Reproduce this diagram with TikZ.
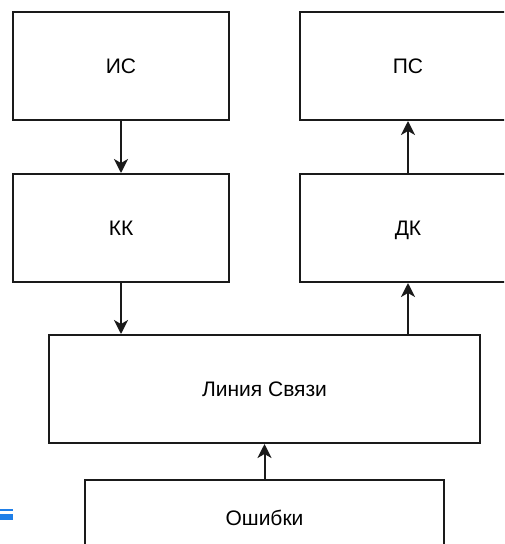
\documentclass[tikz,border=0pt]{standalone}
\usepackage{fontspec}
\setmainfont{Liberation Sans}
\usetikzlibrary{arrows.meta, positioning}
\definecolor{boxline}{HTML}{1A1A1A}
\definecolor{marker}{HTML}{1F7FE8}

\tikzset{
  block/.style={draw=boxline, line width=2pt, minimum width=216pt, minimum height=108pt,
    inner sep=0pt, text depth=0pt, font=\fontsize{21}{24}\selectfont},
  link/.style={-{Stealth[length=14pt, width=14pt, inset=4pt]}, line width=2pt, draw=boxline},
}

\begin{document}
\begin{tikzpicture}[x=1pt, y=-1pt]
  % Rahmen
  \useasboundingbox (0,0) rectangle (504,544);
  \clip (0,0) rectangle (504,544);

  % Bloecke
  \node[block] (is) at (121,66) {ИС};
  \node[block] (ps) at (408,66) {ПС};
  \node[block] (kk) at (121,228) {КК};
  \node[block] (dk) at (408,228) {ДК};
  \node[block, minimum width=431pt] (line) at (264.5,389) {Линия Связи};
  \node[block, minimum width=359pt, minimum height=130pt, anchor=north] (err) at (264.5,479) {};
  \node[font=\fontsize{21}{24}\selectfont] (errtext) at (264.5,518) {Ошибки};

  % Verbindungen
  \draw[link] (is) -- (kk);
  \draw[link] (kk.south) -- (kk.south |- line.north);
  \draw[link] (dk.south |- line.north) -- (dk.south);
  \draw[link] (dk) -- (ps);
  \draw[link] (err) -- (line);

  % Markierung am Rand
  \fill[marker] (0,509) rectangle (13,510.8);
  \fill[marker] (0,513.7) rectangle (13,519.5);
\end{tikzpicture}
\end{document}
